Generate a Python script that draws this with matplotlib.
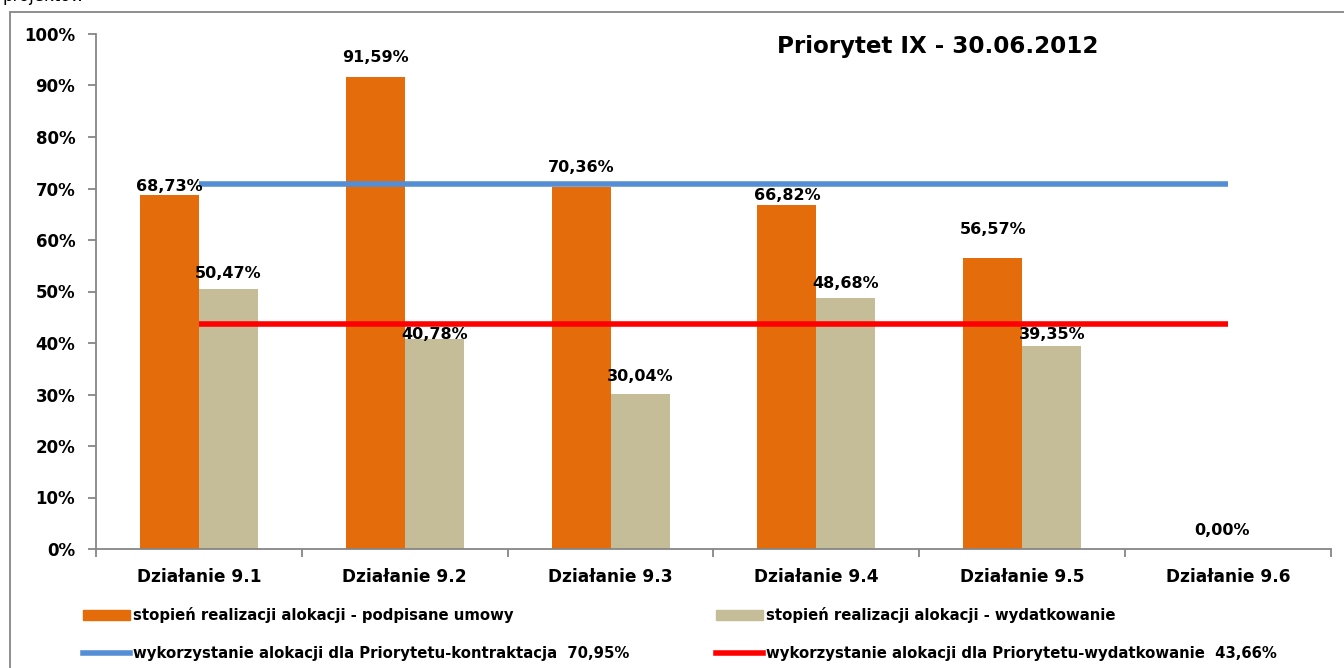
import matplotlib
matplotlib.use("Agg")
import matplotlib.pyplot as plt
from matplotlib.patches import Rectangle, Patch
from matplotlib.lines import Line2D
import numpy as np

categories = ["Działanie 9.1", "Działanie 9.2", "Działanie 9.3",
              "Działanie 9.4", "Działanie 9.5", "Działanie 9.6"]
contract = [68.73, 91.59, 70.36, 66.82, 56.57, 0.00]
spend = [50.47, 40.78, 30.04, 48.68, 39.35, 0.00]
avg_contract = 70.95
avg_spend = 43.66
yticks = [0, 10, 20, 30, 40, 50, 60, 70, 80, 90, 100]
title = "Priorytet IX - 30.06.2012"
leg_labels = ["stopień realizacji alokacji - podpisane umowy",
              "stopień realizacji alokacji - wydatkowanie",
              "wykorzystanie alokacji dla Priorytetu-kontraktacja  70,95%",
              "wykorzystanie alokacji dla Priorytetu-wydatkowanie  43,66%"]

ORANGE = "#E46C0A"
TAN = "#C4BD97"
BLUE = "#558ED5"
RED = "#FF0000"
GRAY = "#868686"
SANS = "DejaVu Sans"

# label offsets in pixels (style)
off_c = [8, 19, 19, 9, 28, None]
off_s = [15, 4, 17, 14, 11, None]

fig = plt.figure(figsize=(13.44, 6.68), dpi=100)
W, H = 1344, 668
renderer = fig.canvas.get_renderer()


def fitted_size(text, target_px, family=SANS):
    t = fig.text(0, 0, text, fontsize=10, fontweight="bold", family=family)
    wpx = t.get_window_extent(renderer).width
    t.remove()
    return 10 * target_px / wpx


# outer frame
fig.patches.append(Rectangle((10 / W, -0.01), 1.2, 1 - 12 / H + 0.01,
                             transform=fig.transFigure, fill=False,
                             edgecolor=GRAY, linewidth=1.3))
fig.text(2 / W, 1 - 1 / H, "projektów", fontsize=12, family=SANS,
         va="baseline", ha="left")

ax = fig.add_axes([96 / W, 1 - 549 / H, (1331 - 96) / W, (549 - 34) / H])
x = np.arange(len(categories))
w = 59 / 206
ax.bar(x - w / 2, contract, width=w, color=ORANGE, zorder=2)
ax.bar(x + w / 2, spend, width=w, color=TAN, zorder=2)
ax.plot([x[0], x[-1]], [avg_contract] * 2, color=BLUE, lw=4, zorder=3,
        solid_capstyle="butt")
ax.plot([x[0], x[-1]], [avg_spend] * 2, color=RED, lw=4, zorder=3,
        solid_capstyle="butt")


def fmt(v):
    return f"{v:.2f}".replace(".", ",") + "%"


lab_kw = dict(fontsize=11.5, fontweight="bold", family="DejaVu Sans",
              ha="center", va="bottom", textcoords="offset pixels", zorder=5)
for i in range(len(categories) - 1):
    ax.annotate(fmt(contract[i]), (x[i] - w / 2, contract[i]),
                xytext=(0, off_c[i] - 7), **lab_kw)
    ax.annotate(fmt(spend[i]), (x[i] + w / 2, spend[i]),
                xytext=(0, off_s[i] - 7), **lab_kw)
ax.annotate(fmt(contract[-1]), (x[-1] - 0.03, 0), xytext=(0, 11), **lab_kw)

ax.set_xlim(-0.5, len(categories) - 0.5)
ax.set_ylim(0, 100)
ax.set_yticks(yticks)
ax.set_yticklabels([f"{t}%" for t in yticks], fontsize=12,
                   fontweight="bold", family="DejaVu Sans")
ax.set_xticks(np.arange(-0.5, len(categories), 1.0))
ax.set_xticklabels([])
ax.set_xticks(x, minor=True)
cat_fs = fitted_size(categories[0], 125)
ax.set_xticklabels(categories, minor=True, fontsize=cat_fs, fontweight="bold",
                   family=SANS)
ax.tick_params(axis="x", which="minor", length=0, pad=14)
ax.tick_params(axis="x", which="major", length=6, color=GRAY, width=1.3)
ax.tick_params(axis="y", length=6, color=GRAY, width=1.3, pad=9)
for s in ["top", "right"]:
    ax.spines[s].set_visible(False)
for s in ["left", "bottom"]:
    ax.spines[s].set_color(GRAY)
    ax.spines[s].set_linewidth(1.3)

title_fs = fitted_size(title, 321)
fig.text(938 / W, 1 - 47 / H, title, fontsize=title_fs, fontweight="bold",
         family=SANS, ha="center", va="center")

leg_fs = fitted_size(leg_labels[0], 380)
fs_px = leg_fs * 100 / 72
common = dict(loc="center left", frameon=False, ncol=1,
              prop=dict(family=SANS, weight="bold", size=leg_fs),
              handlelength=47 / fs_px, handleheight=9 / fs_px,
              handletextpad=3 / fs_px, labelspacing=(40 - 1.17 * fs_px) / fs_px,
              borderpad=0, borderaxespad=0)
leg1 = fig.legend([Patch(color=ORANGE), Line2D([], [], color=BLUE, lw=4)],
                  [leg_labels[0], leg_labels[2]],
                  bbox_to_anchor=(83 / W, 1 - 634 / H), **common)
leg2 = fig.legend([Patch(color=TAN), Line2D([], [], color=RED, lw=4)],
                  [leg_labels[1], leg_labels[3]],
                  bbox_to_anchor=(716 / W, 1 - 634 / H), **common)

fig.savefig("out.png", dpi=100)
